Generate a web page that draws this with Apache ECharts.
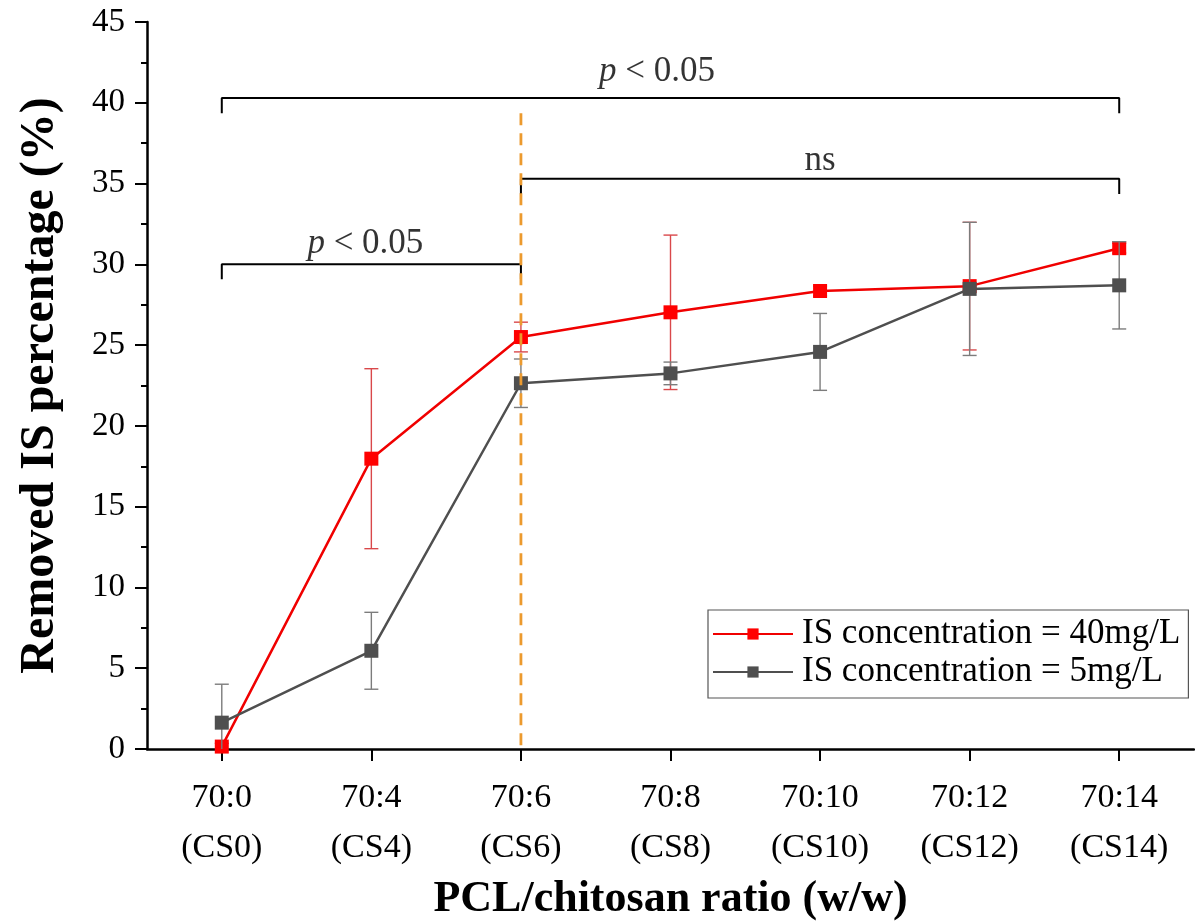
<!DOCTYPE html>
<html>
<head>
<meta charset="utf-8">
<script src="https://cdn.jsdelivr.net/npm/echarts@6/dist/echarts.min.js"></script>
<style>
  html, body { margin: 0; padding: 0; background: #fff; }
  #chart { width: 1195px; height: 923px; }
</style>
</head>
<body>
<div id="chart"></div>
<script>
var chart = echarts.init(document.getElementById('chart'));
var FONT = "'Liberation Serif', 'Times New Roman', serif";

var categories = ['70:0\n(CS0)', '70:4\n(CS4)', '70:6\n(CS6)', '70:8\n(CS8)', '70:10\n(CS10)', '70:12\n(CS12)', '70:14\n(CS14)'];
var yTicks = [0, 45, 5];

// IS 40 mg/L
var red = [0.15, 17.97, 25.5, 27.03, 28.35, 28.65, 31.0];
var redErr = [0.2, 5.57, 0.92, 4.78, 0.3, 3.95, 0.3];
// IS 5 mg/L
var gray = [1.63, 6.08, 22.64, 23.25, 24.58, 28.48, 28.7];
var grayErr = [2.38, 2.38, 1.5, 0.7, 2.38, 4.12, 2.7];

// significance brackets: [x, y] in category index / percent
var bracketAll = [[0, 39.35], [0, 40.3], [6, 40.3], [6, 39.35]];
var bracketNs = [[2, 34.35], [2, 35.29], [6, 35.29], [6, 34.35]];
var bracketLow = [[0, 29.07], [0, 30.0], [2, 30.0], [2, 29.07]];
var dashedLine = [[2, 39.35], [2, 0]];
var annotTexts = [
  {value: [2.91, 41.9], text: 'p'},
  {value: [4.0, 36.4], text: 'ns'},
  {value: [0.96, 31.3], text: 'p'}
];

function errData(mean, err) {
  return mean.map(function (m, i) { return [i, m, err[i]]; });
}

function errRender(color) {
  return function (params, api) {
    var i = api.value(0), m = api.value(1), e = api.value(2);
    var top = api.coord([i, m + e]);
    var bot = api.coord([i, m - e]);
    var hw = 7;
    var st = {stroke: color, lineWidth: 1.4};
    return {
      type: 'group',
      children: [
        {type: 'line', shape: {x1: top[0], y1: top[1], x2: bot[0], y2: bot[1]}, style: st},
        {type: 'line', shape: {x1: top[0] - hw, y1: top[1], x2: top[0] + hw, y2: top[1]}, style: st},
        {type: 'line', shape: {x1: bot[0] - hw, y1: bot[1], x2: bot[0] + hw, y2: bot[1]}, style: st}
      ]
    };
  };
}

function bracket(pts) {
  return {
    type: 'line', xAxisIndex: 1, data: pts, symbol: 'none', silent: true,
    lineStyle: {color: '#000', width: 2}, z: 1, animation: false
  };
}

var pLabel = {
  show: true, position: 'inside',
  formatter: function (p) {
    return p.data.text === 'ns' ? 'ns' : '{i|p} < 0.05';
  },
  fontFamily: FONT, fontSize: 35, color: '#000',
  rich: {i: {fontFamily: FONT, fontSize: 35, fontStyle: 'italic', color: '#000'}}
};

option = {
  animation: false,
  grid: {left: 147, top: 22, width: 1047, height: 727, outerBoundsMode: 'none', containLabel: false},
  legend: {
    data: ['IS concentration = 40mg/L', 'IS concentration = 5mg/L'],
    orient: 'vertical', left: 708, top: 610,
    padding: [6, 8, 8, 4], itemGap: 2,
    itemWidth: 80, itemHeight: 14,
    borderColor: '#555', borderWidth: 1.2,
    selectedMode: false,
    textStyle: {fontFamily: FONT, fontSize: 35, color: '#000', lineHeight: 36, padding: [0, 0, 0, 4]}
  },
  xAxis: [{
    type: 'category', data: categories,
    name: 'PCL/chitosan ratio (w/w)', nameLocation: 'middle', nameGap: 124,
    nameTextStyle: {fontFamily: FONT, fontSize: 44, fontWeight: 'bold', color: '#000'},
    axisLine: {show: true, lineStyle: {color: '#000', width: 2.5}},
    axisTick: {show: true, alignWithLabel: true, length: 12, lineStyle: {color: '#000', width: 2}},
    axisLabel: {fontFamily: FONT, fontSize: 34, color: '#000', lineHeight: 50, margin: 24},
    splitLine: {show: false}
  }, {
    type: 'value', min: -0.5, max: 6.5, show: false
  }],
  yAxis: {
    type: 'value', min: yTicks[0], max: yTicks[1], interval: yTicks[2],
    name: 'Removed IS percentage (%)', nameLocation: 'middle', nameGap: 82,
    nameTextStyle: {fontFamily: FONT, fontSize: 48, fontWeight: 'bold', color: '#000'},
    axisLine: {show: true, onZero: false, lineStyle: {color: '#000', width: 2.5}},
    axisTick: {show: true, length: 12, lineStyle: {color: '#000', width: 2}},
    minorTick: {show: true, splitNumber: 2, length: 6, lineStyle: {color: '#000', width: 2}},
    axisLabel: {fontFamily: FONT, fontSize: 33, color: '#000', margin: 22},
    splitLine: {show: false}
  },
  series: [
    {
      type: 'custom', data: errData(red, redErr), renderItem: errRender('#d9484a'),
      z: 2, silent: true, clip: true
    },
    {
      name: 'IS concentration = 40mg/L', type: 'line', data: red,
      symbol: 'rect', symbolSize: 14,
      lineStyle: {color: '#f00000', width: 2.5},
      itemStyle: {color: '#ff0000'}, z: 3
    },
    {
      type: 'custom', data: errData(gray, grayErr), renderItem: errRender('#7c7c7c'),
      z: 4, silent: true, clip: true
    },
    {
      name: 'IS concentration = 5mg/L', type: 'line', data: gray,
      symbol: 'rect', symbolSize: 14,
      lineStyle: {color: '#4f4f4f', width: 2.5},
      itemStyle: {color: '#4f4f4f'}, z: 5
    },
    bracket(bracketAll),
    bracket(bracketNs),
    bracket(bracketLow),
    {
      type: 'line', xAxisIndex: 1, data: dashedLine, symbol: 'none', silent: true,
      lineStyle: {color: '#ec9a2e', width: 2.8, type: [12, 8]}, z: 6
    },
    {
      type: 'scatter', xAxisIndex: 1, symbolSize: 0, silent: true,
      data: annotTexts, label: pLabel, z: 6
    }
  ]
};
chart.setOption(option);
</script>
</body>
</html>
